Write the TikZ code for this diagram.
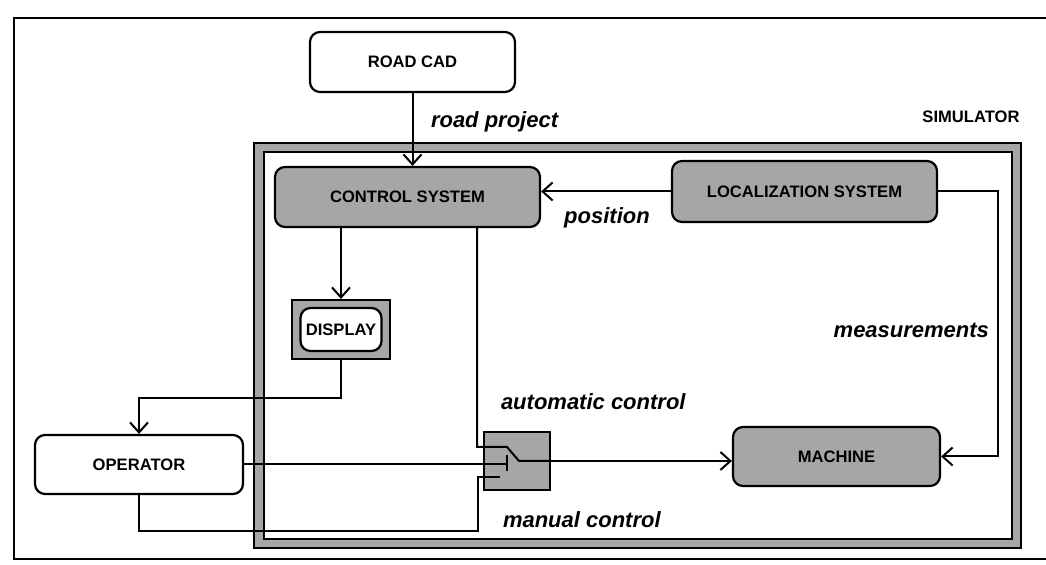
\documentclass[tikz,border=0pt]{standalone}
\usepackage{fontspec}
\setmainfont{Liberation Sans}
\usetikzlibrary{positioning, arrows.meta}

\begin{document}
\begin{tikzpicture}[x=0.5pt, y=-0.5pt, line width=1pt,
	every node/.style={inner sep=0pt},
	block/.style={draw, line width=1.1pt, rounded corners=5pt, font=\fontsize{8.3}{10}\selectfont\bfseries},
	shaded/.style={block, fill=black!35},
	halftone/.style={draw, line width=1.1pt, fill=black!35},
	lbl/.style={font=\fontsize{11}{13}\selectfont\bfseries\itshape},
	>={Straight Barb[length=5pt, width=9pt]}]
	\useasboundingbox (0,0) rectangle (1046,565);
	\draw (1046,18) -- (14,18) -- (14,559) -- (1046,559);
	\filldraw[halftone, even odd rule] (254,143) rectangle (1021,548) (264,152) rectangle (1012,539);
	\node[font=\fontsize{8.3}{10}\selectfont\bfseries] (sim) at (971,117) {SIMULATOR};

	\node[block, minimum width=102.5pt, minimum height=30pt] (cad) at (412.5,62) {ROAD CAD};
	\node[shaded, minimum width=132.5pt, minimum height=30pt] (ctrl) at (407.5,197) {CONTROL SYSTEM};
	\node[shaded, minimum width=132.5pt, minimum height=30.5pt] (loc) at (804.5,191.5) {LOCALIZATION SYSTEM};
	\node[shaded, minimum width=103.5pt, minimum height=29.5pt] (mach) at (836.5,456.5) {MACHINE};
	\node[block, minimum width=104pt, minimum height=29.5pt] (op) at (139,464.5) {OPERATOR};
	\node[halftone, minimum width=49pt, minimum height=29.5pt] (disp) at (341,329.5) {};
	\node[block, fill=white, minimum width=40.5pt, minimum height=21.5pt] (dispin) at (disp) {DISPLAY};
	\node[halftone, minimum width=33pt, minimum height=29pt] (sw) at (517,461) {};

	\coordinate (auto) at (477,447);
	\coordinate (pin) at (507,447);
	\coordinate (blade) at (519,461);
	\coordinate (contact) at (507,464.5);
	\coordinate (manlow) at (478,531);
	\coordinate (mancorner) at (478,477);
	\coordinate (manend) at (500,477);
	\coordinate (dturn) at (341,398);
	\coordinate (mright) at (998,456.5);

	\draw[->] (cad.south) -- (cad.south |- ctrl.north);
	\node[lbl, anchor=west] (rp) at (430,122) {road project};
	\draw[->] (loc.west) -- (loc.west -| ctrl.east);
	\node[lbl] (pos) at (607,218) {position};
	\draw[->] (loc.east) -| (mright) -- (mach.east);
	\node[lbl, anchor=east] (meas) at (990,330) {measurements};
	\draw[->] (disp.north |- ctrl.south) -- (disp.north);
	\draw[->] (disp.south) -- (dturn) -| (op.north);
	\draw (ctrl.south -| auto) -- (auto) -- (pin) -- (blade) -- (sw.east);
	\draw[->] (sw.east) -- (sw.east -| mach.west);
	\draw (op.east) -- (contact);
	\draw (507,455) -- (507,471);
	\draw (op.south) |- (manlow) -- (mancorner) -- (manend);
	\node[lbl, anchor=west] (autolbl) at (500,402) {automatic control};
	\node[lbl, anchor=west] (manlbl) at (502,520) {manual control};
\end{tikzpicture}
\end{document}
